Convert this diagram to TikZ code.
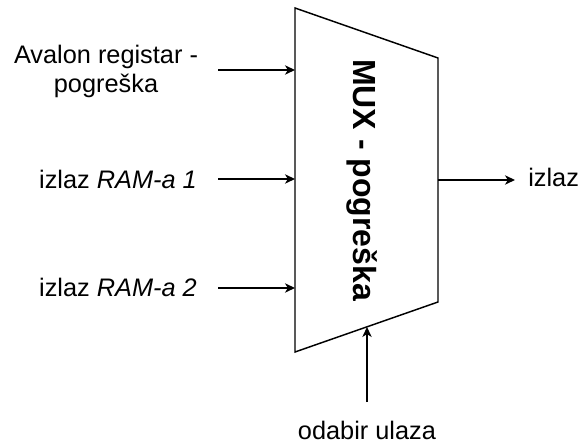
\documentclass[tikz,border=0pt]{standalone}
\usepackage{fontspec}
\setmainfont{Liberation Sans}
\usetikzlibrary{arrows.meta}
\begin{document}
\begin{tikzpicture}[x=0.75pt,y=-0.75pt,
  lbl/.style={font=\fontsize{19}{21.75}\selectfont, inner sep=0pt, align=center},
  arr/.style={-{Stealth[length=7.5pt,width=7pt,inset=2.2pt]}, line width=1.1pt},
  muxedge/.style={line width=1.1pt, line join=miter}]
\useasboundingbox (0,0) rectangle (582,445);
% trapezoid corners
\coordinate (tl) at (295,8);
\coordinate (tr) at (438,58);
\coordinate (br) at (438,302);
\coordinate (bl) at (295,352);
\draw[muxedge] (tl) -- (tr) -- (br) -- (bl) -- cycle;
\node[rotate=-90, anchor=base, inner sep=0pt, font=\bfseries\fontsize{24}{28}\selectfont] (mux) at (353,180) {MUX - pogreška};
% labels
\node[lbl] (l1) at (106,71) {Avalon registar -\\pogreška};
\node[lbl, anchor=base] (l2) at (118,189) {izlaz \textit{RAM-a 1}};
\node[lbl, anchor=base] (l3) at (118,297) {izlaz \textit{RAM-a 2}};
\node[lbl, anchor=base west] (out) at (528,187) {izlaz};
\node[lbl, anchor=base] (sel) at (367,439) {odabir ulaza};
% connector points
\coordinate (s1) at (218,70);  \coordinate (e1) at (295,70);
\coordinate (s2) at (218,179); \coordinate (e2) at (295,179);
\coordinate (s3) at (218,288); \coordinate (e3) at (295,288);
\coordinate (so) at (438,180); \coordinate (eo) at (515,180);
\coordinate (ss) at (367,402); \coordinate (es) at (367,327);
\draw[arr] (s1) -- (e1);
\draw[arr] (s2) -- (e2);
\draw[arr] (s3) -- (e3);
\draw[arr] (so) -- (eo);
\draw[arr] (ss) -- (es);
\end{tikzpicture}
\end{document}
